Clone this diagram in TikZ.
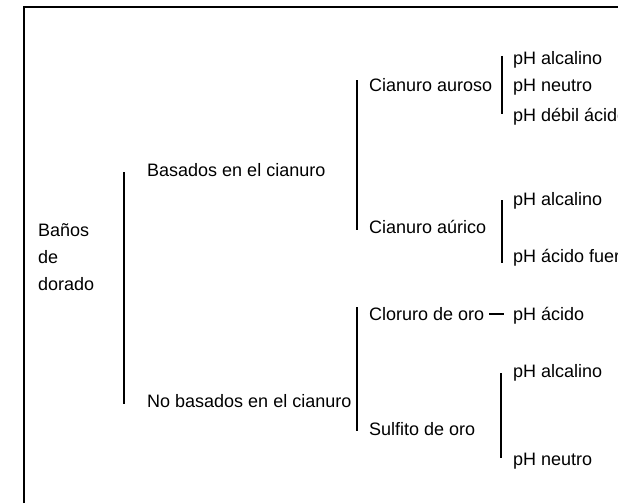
\documentclass[tikz,border=0pt]{standalone}
\usepackage{fontspec}
\setmainfont{Liberation Sans}
\begin{document}
\begin{tikzpicture}[x=1pt,y=-1pt,
  lbl/.style={anchor=base west,inner sep=0pt,font=\fontsize{18}{22}\selectfont},
  bar/.style={line width=1.5pt,black},
  frame/.style={line width=1.5pt,black}]
\useasboundingbox (0,0) rectangle (618,503);
\clip (0,0) rectangle (618,503);
% frame
\draw[frame] (24,503) -- (24,7) -- (618,7);
% level 1
\node[lbl] (banos) at (38,236) {Baños};
\node[lbl] (de) at (38,263) {de};
\node[lbl] (dorado) at (38,290) {dorado};
\coordinate (b1t) at (124,172);
\coordinate (b1b) at (124,404);
\draw[bar] (b1t) -- (b1b);
% level 2
\node[lbl] (basados) at (147,176) {Basados en el cianuro};
\node[lbl] (nobasados) at (147,407) {No basados en el cianuro};
\coordinate (b2t) at (357,80);
\coordinate (b2b) at (357,230);
\draw[bar] (b2t) -- (b2b);
\coordinate (b3t) at (357,307);
\coordinate (b3b) at (357,431);
\draw[bar] (b3t) -- (b3b);
% level 3
\node[lbl] (auroso) at (369,91) {Cianuro auroso};
\node[lbl] (aurico) at (369,233) {Cianuro aúrico};
\node[lbl] (cloruro) at (369,320) {Cloruro de oro};
\node[lbl] (sulfito) at (369,435) {Sulfito de oro};
% level 4 bars
\coordinate (c1t) at (502,56);
\coordinate (c1b) at (502,114);
\draw[bar] (c1t) -- (c1b);
\coordinate (c2t) at (502,200);
\coordinate (c2b) at (502,263);
\draw[bar] (c2t) -- (c2b);
\coordinate (c3t) at (501,373);
\coordinate (c3b) at (501,458);
\draw[bar] (c3t) -- (c3b);
% level 4 labels
\node[lbl] (pa1) at (513,64) {pH alcalino};
\node[lbl] (pn1) at (513,92) {pH neutro};
\node[lbl] (pd1) at (513,121) {pH débil ácido};
\node[lbl] (pa2) at (513,205) {pH alcalino};
\node[lbl] (pf2) at (513,262) {pH ácido fuerte};
\node[lbl] (pacido) at (513,320) {pH ácido};
\node[lbl] (pa3) at (513,377) {pH alcalino};
\node[lbl] (pn3) at (513,465) {pH neutro};
% dash
\draw[line width=1.4pt] ([xshift=5pt,yshift=6pt]cloruro.base east) -- ([xshift=-9pt,yshift=6pt]pacido.base west);
\end{tikzpicture}
\end{document}
